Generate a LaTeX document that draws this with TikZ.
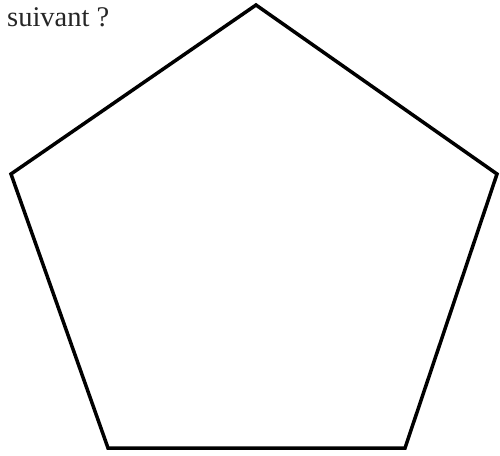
\documentclass[tikz,border=0pt]{standalone}
\usepackage{fontspec}
\setmainfont{Liberation Serif}
\begin{document}
\begin{tikzpicture}[x=1pt,y=-1pt,
  edge/.style={line width=3.5pt,line join=miter,black},
  lbl/.style={anchor=base west,inner sep=0pt,font=\fontsize{28.5}{31}\selectfont,text=black!85}]
\useasboundingbox (0,0) rectangle (500,455);
\coordinate (A) at (256,5);
\coordinate (B) at (497,174);
\coordinate (C) at (405,448);
\coordinate (D) at (108,448);
\coordinate (E) at (11,174);
\draw[edge] (A) -- (B) -- (C) -- (D) -- (E) -- cycle;
\node[lbl] (t) at (7,26.5) {suivant ?};
\end{tikzpicture}
\end{document}
